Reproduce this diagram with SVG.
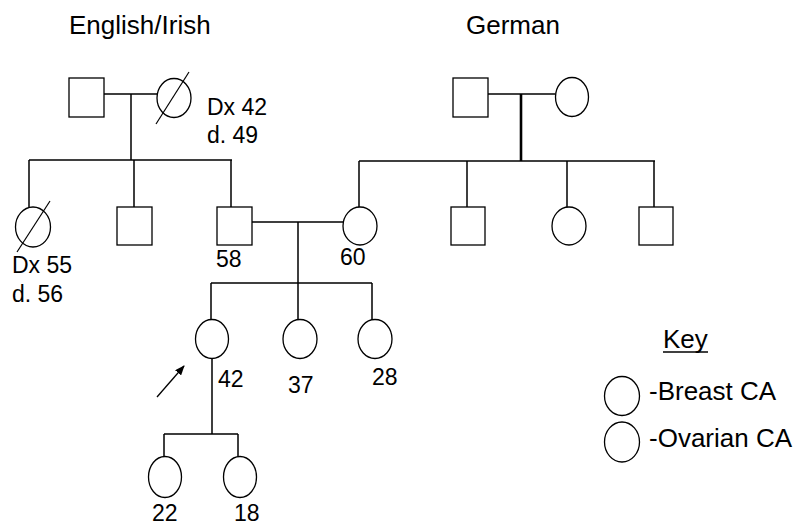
<svg xmlns="http://www.w3.org/2000/svg" width="796" height="525" viewBox="0 0 796 525">
<style>
.sh{fill:#fff;stroke:#000;stroke-width:1.3}
.ln{stroke:#000;stroke-width:1.5;fill:none}
.t{font-family:"Liberation Sans",Arial,sans-serif;fill:#000}
.lb{font-size:23px}
.hd{font-size:26px}
</style>
<defs>
<marker id="ah" markerWidth="10" markerHeight="8" refX="9" refY="4" orient="auto" markerUnits="userSpaceOnUse">
<path d="M0,0 L10,4 L0,8 Z" fill="#000"/>
</marker>
</defs>
<rect width="796" height="525" fill="#fff"/>
<text class="t hd" x="69" y="34">English/Irish</text>
<text class="t hd" x="466" y="34">German</text>
<g id="connectors">
<path class="ln" d="M104,94 H157 M131,94 V160 M29,160 H232 M29,160 V207 M134,160 V207 M231,160 V207"/>
<path class="ln" d="M488,94 H555"/>
<path d="M521,94 V161" stroke="#000" stroke-width="2.6"/>
<path class="ln" d="M359,161 H655 M359,161 V207 M467,161 V207 M567,161 V207 M654,161 V207"/>
<path class="ln" d="M252,222 H343 M298,222 V283 M211,283 H372 M211,283 V320 M298,283 V320 M372,283 V320"/>
<path class="ln" d="M212,359 V434 M164,434 H238 M164,434 V457 M238,434 V457"/>
<line x1="157" y1="397" x2="184" y2="366" stroke="#000" stroke-width="1.3" marker-end="url(#ah)"/>
</g>
<g id="gf1"><rect class="sh" x="69" y="78" width="35" height="39"/></g>
<g id="gm1"><ellipse class="sh" cx="174" cy="98" rx="17" ry="19.5"/><line x1="156" y1="124" x2="189" y2="72" stroke="#000" stroke-width="1.2"/>
<text class="t lb" x="207" y="115">Dx 42</text><text class="t lb" x="207" y="143">d. 49</text></g>
<g id="gf2"><rect class="sh" x="453" y="78" width="35" height="39"/></g>
<g id="gm2"><ellipse class="sh" cx="572" cy="97" rx="16.5" ry="19.5"/></g>
<g id="aunt1"><ellipse class="sh" cx="33" cy="227" rx="17.5" ry="20"/><line x1="17" y1="252" x2="50" y2="201" stroke="#000" stroke-width="1.2"/>
<text class="t lb" x="12" y="273">Dx 55</text><text class="t lb" x="12" y="302">d. 56</text></g>
<g id="uncle1"><rect class="sh" x="117" y="207" width="35" height="38"/></g>
<g id="father"><rect class="sh" x="217" y="207" width="35" height="38"/><text class="t lb" x="216" y="267">58</text></g>
<g id="mother"><ellipse class="sh" cx="360" cy="226" rx="17" ry="19"/><text class="t lb" x="340" y="265">60</text></g>
<g id="uncle2"><rect class="sh" x="451" y="207" width="34" height="38"/></g>
<g id="aunt2"><ellipse class="sh" cx="569" cy="226" rx="17" ry="19"/></g>
<g id="uncle3"><rect class="sh" x="639" y="207" width="34" height="38"/></g>
<g id="proband"><ellipse class="sh" cx="212" cy="339" rx="16.5" ry="19.5"/><text class="t lb" x="218" y="387">42</text></g>
<g id="sis1"><ellipse class="sh" cx="300" cy="339" rx="17" ry="19.5"/><text class="t lb" x="288" y="393">37</text></g>
<g id="sis2"><ellipse class="sh" cx="375" cy="339" rx="17" ry="19.5"/><text class="t lb" x="372" y="385">28</text></g>
<g id="d1"><ellipse class="sh" cx="165" cy="477" rx="16.5" ry="20.5"/><text class="t lb" x="152" y="521">22</text></g>
<g id="d2"><ellipse class="sh" cx="240" cy="477" rx="16.5" ry="20.5"/><text class="t lb" x="234" y="521">18</text></g>
<g id="key">
<text class="t hd" x="663" y="348">Key</text>
<line x1="663" y1="352" x2="708" y2="352" stroke="#000" stroke-width="1.5"/>
<ellipse class="sh" cx="622" cy="396" rx="17.5" ry="19.5"/>
<text class="t hd" x="649" y="400">-Breast CA</text>
<ellipse class="sh" cx="622" cy="442" rx="17.5" ry="20"/>
<text class="t hd" x="649" y="447">-Ovarian CA</text>
</g>
</svg>
